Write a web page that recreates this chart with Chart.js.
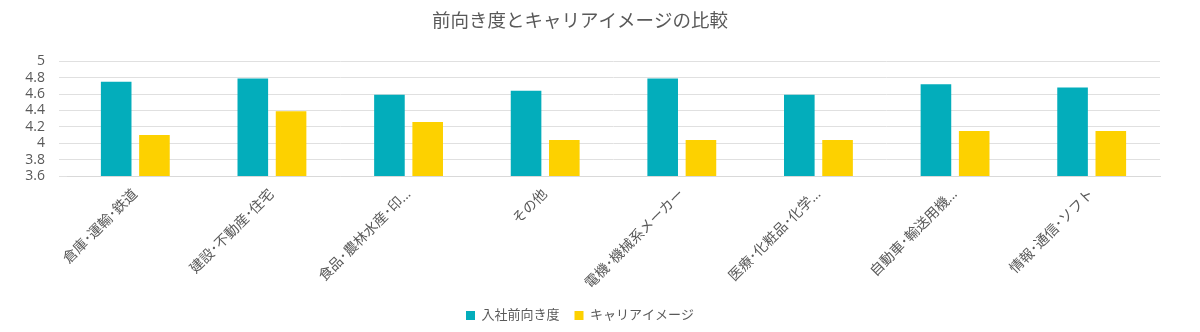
<!DOCTYPE html>
<html>
<head>
<meta charset="utf-8">
<script src="https://cdn.jsdelivr.net/npm/chart.js@4/dist/chart.umd.min.js"></script>
<style>
  html, body { margin: 0; padding: 0; background: #fff; }
  #wrap { width: 1200px; height: 332px; }
</style>
</head>
<body>
<div id="wrap"><canvas id="chart"></canvas></div>
<script>
const categories = [
  "倉庫･運輸･鉄道",
  "建設･不動産･住宅",
  "食品･農林水産･印...",
  "その他",
  "電機･機械系メーカー",
  "医療･化粧品･化学...",
  "自動車･輸送用機...",
  "情報･通信･ソフト",
];
const motivation = [4.75, 4.79, 4.59, 4.64, 4.79, 4.59, 4.72, 4.68];
const careerImage = [4.10, 4.39, 4.26, 4.04, 4.04, 4.04, 4.15, 4.15];
const yTicks = [3.6, 3.8, 4, 4.2, 4.4, 4.6, 4.8, 5];

const FONT = '"Open Sans", "Noto Sans CJK JP", sans-serif';
const TEXT = "#595959";

new Chart(document.getElementById("chart"), {
  type: "bar",
  data: {
    labels: categories,
    datasets: [
      {
        label: "入社前向き度",
        data: motivation,
        backgroundColor: "#03adbb",
        barPercentage: 0.8,
        categoryPercentage: 0.56,
      },
      {
        label: "キャリアイメージ",
        data: careerImage,
        backgroundColor: "#fdd100",
        barPercentage: 0.8,
        categoryPercentage: 0.56,
      },
    ],
  },
  options: {
    responsive: true,
    maintainAspectRatio: false,
    animation: false,
    layout: { padding: { left: 0, right: 40, top: 6, bottom: 0 } },
    plugins: {
      title: {
        display: true,
        text: "前向き度とキャリアイメージの比較",
        color: TEXT,
        font: { family: FONT, size: 18.5, weight: "normal" },
        padding: { top: 5, bottom: 28 },
      },
      legend: {
        position: "bottom",
        labels: {
          color: TEXT,
          font: { family: FONT, size: 13 },
          boxWidth: 9,
          boxHeight: 9,
          padding: 15,
        },
      },
      tooltip: { enabled: false },
    },
    scales: {
      x: {
        grid: { display: false },
        border: { color: "#d9d9d9" },
        ticks: {
          color: TEXT,
          font: { family: FONT, size: 14 },
          minRotation: 45,
          maxRotation: 45,
          autoSkip: false,
          padding: 2,
        },
      },
      y: {
        min: 3.6,
        max: 5,
        border: { display: false },
        grid: { color: "#e0e0e0" },
        afterBuildTicks: (scale) => {
          scale.ticks = yTicks.map(v => ({ value: v }));
        },
        ticks: {
          autoSkip: false,
          color: TEXT,
          font: { family: FONT, size: 14 },
          padding: 14,
          callback: (v) => String(Math.round(v * 10) / 10),
        },
        afterFit: (scale) => { scale.width = 67; },
      },
    },
  },
});
</script>
</body>
</html>
